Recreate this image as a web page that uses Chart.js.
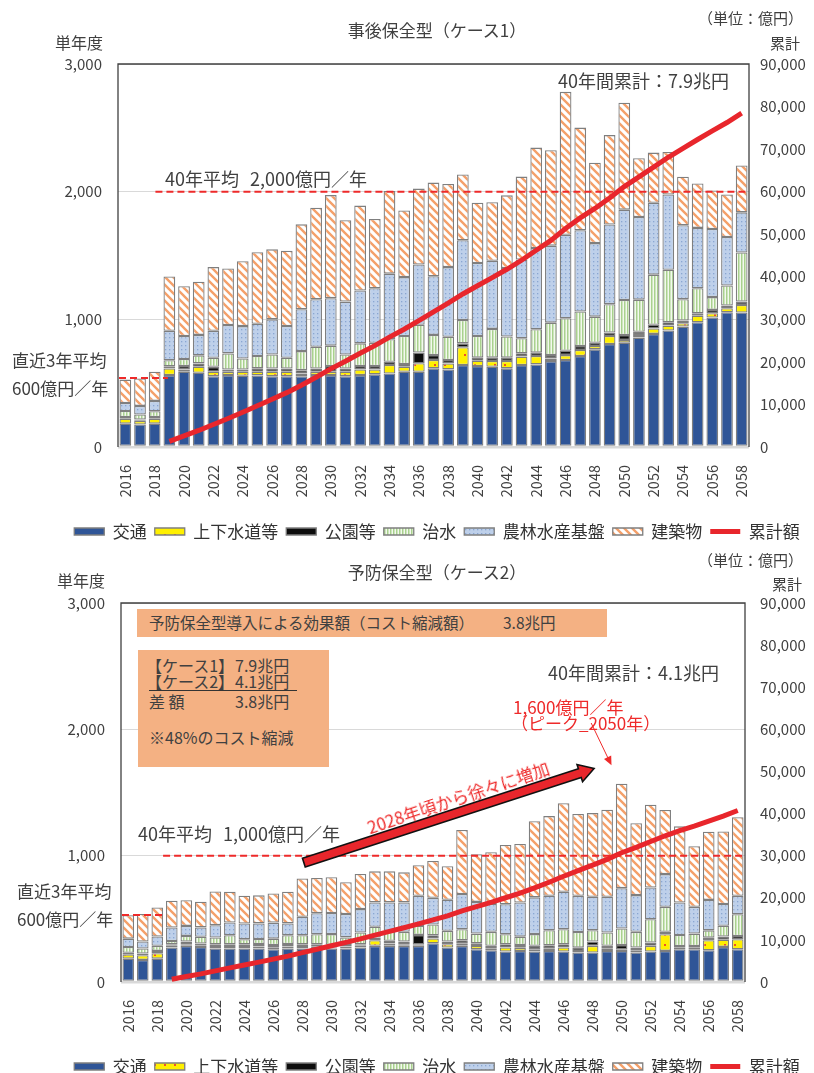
<!DOCTYPE html>
<html><head><meta charset="utf-8">
<script src="https://cdn.jsdelivr.net/npm/chart.js@4/dist/chart.umd.min.js"></script>
<style>
html,body{margin:0;padding:0;background:#fff;width:814px;height:1073px;overflow:hidden;}
body{position:relative;font-family:"Noto Sans CJK JP","Noto Sans",sans-serif;color:#404040;}
canvas{position:absolute;left:0;}
.t{position:absolute;white-space:pre;line-height:1;font-size:16px;}
.c{transform:translateX(-50%);}
.red{color:#EE2A2A;}
.box{position:absolute;background:#F4B183;}
</style></head>
<body>
<canvas id="c1" width="814" height="550" style="top:0"></canvas>
<canvas id="c2" width="814" height="545" style="top:540px"></canvas>

<!-- top chart texts -->
<div class="t" style="left:55px;top:34px;">単年度</div>
<div class="t c" style="left:437px;top:21px;font-size:17px;">事後保全型（ケース1）</div>
<div class="t" style="left:698px;top:10px;font-size:15px;">（単位：億円）</div>
<div class="t" style="left:770px;top:35px;font-size:15px;">累計</div>
<div class="t" style="left:165px;top:169px;font-size:18px;">40年平均</div>
<div class="t" style="left:250px;top:169px;font-size:18px;">2,000億円／年</div>
<div class="t" style="left:558px;top:71px;font-size:18px;">40年間累計：7.9兆円</div>
<div class="t" style="left:12px;top:351px;font-size:17px;">直近3年平均</div>
<div class="t" style="left:12px;top:379px;font-size:17px;">600億円／年</div>

<!-- bottom chart texts -->
<div class="t" style="left:57px;top:572px;">単年度</div>
<div class="t c" style="left:437px;top:563px;font-size:17px;">予防保全型（ケース2）</div>
<div class="t" style="left:698px;top:552px;font-size:15px;">（単位：億円）</div>
<div class="t" style="left:772px;top:576px;font-size:15px;">累計</div>
<div class="box" style="left:137px;top:609px;width:470px;height:28px;"></div>
<div class="t" style="left:149px;top:615px;font-size:15.5px;">予防保全型導入による効果額（コスト縮減額）</div>
<div class="t" style="left:503px;top:615px;font-size:15.5px;">3.8兆円</div>
<div class="box" style="left:138px;top:650px;width:191px;height:117px;"></div>
<div class="t" style="left:146px;top:657px;font-size:16px;">【ケース1】</div>
<div class="t" style="left:235px;top:657px;font-size:16px;">7.9兆円</div>
<div class="t" style="left:146px;top:673px;font-size:16px;">【ケース2】</div>
<div class="t" style="left:235px;top:673px;font-size:16px;">4.1兆円</div>
<div style="position:absolute;left:149px;top:690px;width:148px;height:0;border-top:1.5px solid #333;"></div>
<div class="t" style="left:149px;top:693px;font-size:16px;">差 額</div>
<div class="t" style="left:235px;top:693px;font-size:16px;">3.8兆円</div>
<div class="t" style="left:149px;top:729px;font-size:16px;">※48%のコスト縮減</div>
<div class="t" style="left:548px;top:663px;font-size:18px;">40年間累計：4.1兆円</div>
<div class="t red" style="left:513px;top:698px;font-size:17px;">1,600億円／年</div>
<div class="t red" style="left:511px;top:714px;font-size:17px;">（ピーク_2050年）</div>
<div class="t" style="left:138px;top:824px;font-size:18px;">40年平均</div>
<div class="t" style="left:223px;top:824px;font-size:18px;">1,000億円／年</div>
<div class="t" style="left:17px;top:882px;font-size:17px;">直近3年平均</div>
<div class="t" style="left:17px;top:910px;font-size:17px;">600億円／年</div>
<div class="t red" style="left:458px;top:797px;font-size:17px;transform:translate(-50%,-50%) rotate(-18.5deg);">2028年頃から徐々に増加</div>

<script>
const years = ['2016','2017','2018','2019','2020','2021','2022','2023','2024','2025','2026','2027','2028','2029','2030','2031','2032','2033','2034','2035','2036','2037','2038','2039','2040','2041','2042','2043','2044','2045','2046','2047','2048','2049','2050','2051','2052','2053','2054','2055','2056','2057','2058'];
const seriesNames = ['交通','上下水道等','公園等','治水','農林水産基盤','建築物','累計額'];
const leftTicks = [0, 1000, 2000, 3000];
const rightTicks = [0, 10000, 20000, 30000, 40000, 50000, 60000, 70000, 80000, 90000];

// Case 1 (事後保全型)
const kotsu1 = [183,176,183,563,590,582,555,563,558,561,555,555,555,563,563,555,563,569,576,590,590,616,608,642,634,629,616,642,647,673,681,713,765,807,817,857,886,912,943,977,1014,1056,1053];
const suido1 = [39,29,39,52,18,47,34,26,31,29,34,34,21,26,26,34,45,39,66,39,66,66,47,139,42,45,58,66,66,21,39,47,26,63,21,21,42,39,26,52,34,31,60];
const koen1 = [13,10,13,18,26,26,39,18,18,26,26,26,26,26,45,26,26,26,26,21,84,39,26,31,24,26,26,26,26,26,34,31,26,26,39,24,29,26,21,18,26,21,26];
const chisui1 = [47,39,45,47,55,63,71,126,86,97,110,84,149,170,160,110,178,183,176,220,217,157,183,183,170,225,165,118,183,254,254,270,204,223,275,252,393,411,168,197,100,157,385];
const norin1 = [63,68,81,231,181,160,212,223,254,252,275,249,328,372,372,414,414,427,514,461,472,459,545,624,571,534,537,616,637,603,655,637,576,624,707,647,563,590,579,472,534,380,314];
const kenchiku1 = [183,215,228,424,390,417,498,443,508,561,548,590,665,718,807,637,665,542,647,521,595,734,652,516,472,459,569,650,786,747,1119,804,629,700,838,461,393,333,380,348,301,333,367];
const ruikei1 = [null,null,null,1340,2600,3890,5300,6700,8160,9680,11230,12770,14510,16390,18360,20140,22030,23820,25820,27670,29700,31770,33830,35960,37880,39790,41760,43880,46230,48550,51330,53830,56060,58500,61200,63460,65770,68080,70200,72260,74270,76250,78460];

// Case 2 (予防保全型)
const kotsu2 = [185,175,185,273,286,278,265,265,265,265,259,265,265,267,265,265,273,286,286,286,286,307,273,286,259,251,241,246,241,246,241,233,233,246,246,233,241,246,259,259,251,278,259];
const suido2 = [34,37,42,13,13,8,13,13,13,16,13,16,13,13,8,16,13,45,19,13,13,37,26,21,26,16,32,26,19,21,32,13,53,21,13,19,45,132,13,13,79,56,79];
const koen2 = [13,13,19,13,21,19,21,21,21,19,21,19,21,19,21,19,13,21,21,21,74,26,21,24,21,19,26,21,26,24,26,26,34,19,34,21,26,19,13,13,21,26,26];
const chisui2 = [45,40,40,26,45,53,53,71,40,40,50,71,71,79,85,53,93,85,79,77,71,85,85,87,77,111,79,66,93,119,119,124,90,106,130,124,185,198,87,98,58,85,172];
const norin2 = [66,56,74,106,79,74,98,101,124,124,127,93,146,167,167,185,185,193,225,233,238,212,246,278,251,220,238,270,291,273,296,286,265,283,320,291,251,259,257,212,241,172,146];
const kenchiku2 = [185,217,230,212,204,204,267,243,220,222,230,251,304,278,283,251,278,246,246,238,243,291,265,508,378,410,468,463,603,630,701,648,662,688,826,569,656,508,603,479,540,574,622];
const ruikei2 = [null,null,null,643,1291,1926,2643,3357,4040,4725,5426,6140,6960,7783,8611,9400,10255,11131,12007,12875,13801,14761,15677,16881,17894,18921,20006,21099,22372,23684,25100,26431,27767,29130,30699,31956,33361,34724,35957,37031,38222,39413,40717];

// reference lines (values)
const avg40_1 = 2000, recent3_1 = 541;
const avg40_2 = 1000, recent3_2 = 530;

function pat(w,h,fn){const c=document.createElement('canvas');c.width=w;c.height=h;const g=c.getContext('2d');fn(g);return g.createPattern(c,'repeat');}
const fills = {
  kotsu:'#2F5597',
  suido: pat(10,10,g=>{g.fillStyle='#FFF000';g.fillRect(0,0,10,10);g.fillStyle='#F0502A';g.fillRect(4,4,2,2);}),
  koen:'#0d0d0d',
  chisui: pat(3,4,g=>{g.fillStyle='#F3F9EE';g.fillRect(0,0,3,4);g.fillStyle='#A9D18E';g.fillRect(0,0,1.5,4);}),
  norin: pat(4,4,g=>{g.fillStyle='#BED0EA';g.fillRect(0,0,4,4);g.fillStyle='#8AA6D2';g.fillRect(1,1,1.3,1.3);}),
  kenchiku: pat(8,8,g=>{g.fillStyle='#fff';g.fillRect(0,0,8,8);g.strokeStyle='#F4A06A';g.lineWidth=2.4;g.beginPath();for(const k of [-8,0,8]){g.moveTo(k-1,-1);g.lineTo(k+9,9);}g.stroke();})
};

const deco = {
  id:'deco',
  afterDatasetsDraw(chart, args, o){
    const {ctx, chartArea:a, scales:{x,y}} = chart;
    ctx.save();
    ctx.strokeStyle='#404040'; ctx.lineWidth=1.3; ctx.setLineDash([]);
    ctx.beginPath(); ctx.moveTo(a.left,a.bottom); ctx.lineTo(a.left,a.top); ctx.lineTo(a.right,a.top); ctx.lineTo(a.right,a.bottom); ctx.stroke();
    ctx.strokeStyle='#EE2A2A'; ctx.lineWidth=2; ctx.setLineDash([7,4]);
    for (const L of o.dashes){
      const yy=y.getPixelForValue(L.v);
      const x0 = L.from==null ? a.left+1 : x.getPixelForValue(L.from);
      const x1 = L.to==null ? a.right : x.getPixelForValue(L.to);
      ctx.beginPath(); ctx.moveTo(x0,yy); ctx.lineTo(x1,yy); ctx.stroke();
    }
    ctx.setLineDash([]);
    if (o.thin){
      const p0=[x.getPixelForValue(o.thin.from[0]), y.getPixelForValue(o.thin.from[1])];
      const p1=[x.getPixelForValue(o.thin.to[0]), y.getPixelForValue(o.thin.to[1])];
      const dx=p1[0]-p0[0], dy=p1[1]-p0[1], len=Math.hypot(dx,dy), ux=dx/len, uy=dy/len;
      ctx.strokeStyle='#EE2A2A'; ctx.fillStyle='#EE2A2A'; ctx.lineWidth=1;
      ctx.beginPath(); ctx.moveTo(p0[0],p0[1]); ctx.lineTo(p1[0]-ux*7,p1[1]-uy*7); ctx.stroke();
      ctx.beginPath(); ctx.moveTo(p1[0],p1[1]); ctx.lineTo(p1[0]-ux*9-uy*4,p1[1]-uy*9+ux*4); ctx.lineTo(p1[0]-ux*9+uy*4,p1[1]-uy*9-ux*4); ctx.closePath(); ctx.fill();
    }
    if (o.arrow){
      const p0=[x.getPixelForValue(o.arrow.from[0]), y.getPixelForValue(o.arrow.from[1])];
      const p1=[x.getPixelForValue(o.arrow.to[0]), y.getPixelForValue(o.arrow.to[1])];
      const dx=p1[0]-p0[0], dy=p1[1]-p0[1], len=Math.hypot(dx,dy), ux=dx/len, uy=dy/len, nx=-uy, ny=ux;
      const hw=4.5, HW=9, HL=15;
      const bx=p1[0]-ux*HL, by=p1[1]-uy*HL;
      ctx.beginPath();
      ctx.moveTo(p0[0]+nx*hw,p0[1]+ny*hw);
      ctx.lineTo(bx+nx*hw,by+ny*hw);
      ctx.lineTo(bx+nx*HW,by+ny*HW);
      ctx.lineTo(p1[0],p1[1]);
      ctx.lineTo(bx-nx*HW,by-ny*HW);
      ctx.lineTo(bx-nx*hw,by-ny*hw);
      ctx.lineTo(p0[0]-nx*hw,p0[1]-ny*hw);
      ctx.closePath();
      ctx.fillStyle='#E8262C'; ctx.fill();
      ctx.strokeStyle='#111'; ctx.lineWidth=1.6; ctx.stroke();
    }
    ctx.restore();
  }
};

function makeChart(id, d, g){
  const bar = (i, data, bg) => ({type:'bar', label:seriesNames[i], data, backgroundColor:bg, borderColor:'#7f7f7f', borderWidth:1.3, borderSkipped:false, barPercentage:0.8, categoryPercentage:1.0, yAxisID:'y', pointStyle:'rect'});
  return new Chart(document.getElementById(id), {
    data:{labels:years, datasets:[
      bar(0,d.kotsu,fills.kotsu),
      bar(1,d.suido,fills.suido),
      bar(2,d.koen,fills.koen),
      bar(3,d.chisui,fills.chisui),
      bar(4,d.norin,fills.norin),
      bar(5,d.kenchiku,fills.kenchiku),
      {type:'line', label:seriesNames[6], data:d.ruikei, yAxisID:'y2', borderColor:'#E8262C', backgroundColor:'#E8262C', borderWidth:5, pointRadius:0, pointStyle:'line', tension:0, order:-1}
    ]},
    options:{
      responsive:false, animation:false, devicePixelRatio:1,
      layout:{padding:{top:g.top,left:60,right:0,bottom:0}},
      plugins:{
        tooltip:{enabled:false},
        legend:{position:'bottom', labels:{font:{family:'"Noto Sans CJK JP"',size:17}, color:'#333', usePointStyle:true, pointStyleWidth:30, boxWidth:30, boxHeight:7, padding:8,
          sort:(a,b)=>a.datasetIndex-b.datasetIndex}},
        deco:g.deco
      },
      scales:{
        x:{stacked:true, grid:{display:false}, border:{display:false},
           ticks:{autoSkip:false, minRotation:90, maxRotation:90, padding:10, color:'#404040', font:{family:'"Noto Sans CJK JP"',size:14.5},
                  callback:(v,i)=> i%2===0 ? years[i] : ''},
           afterFit:s=>{s.height=g.xh;}},
        y:{stacked:true, min:leftTicks[0], max:leftTicks[leftTicks.length-1], position:'left',
           afterBuildTicks:s=>{s.ticks=leftTicks.map(v=>({value:v}));},
           grid:{color:'#d9d9d9', lineWidth:c=>c.tick && c.tick.value===0?2.5:1, drawTicks:false}, border:{display:false},
           ticks:{padding:g.lpad, color:'#404040', font:{family:'"Noto Sans CJK JP"',size:15}, callback:v=>v.toLocaleString('en-US')},
           afterFit:s=>{s.width=g.lw;}},
        y2:{min:rightTicks[0], max:rightTicks[rightTicks.length-1], position:'right',
           afterBuildTicks:s=>{s.ticks=rightTicks.map(v=>({value:v}));},
           grid:{display:false, drawTicks:false}, border:{display:false},
           ticks:{padding:g.rpad, color:'#404040', font:{family:'"Noto Sans CJK JP"',size:15}, callback:v=>v.toLocaleString('en-US')},
           afterFit:s=>{s.width=g.rw;}}
      }
    },
    plugins:[deco]
  });
}

makeChart('c1',
  {kotsu:kotsu1,suido:suido1,koen:koen1,chisui:chisui1,norin:norin1,kenchiku:kenchiku1,ruikei:ruikei1},
  {top:64, xh:68, lw:58, rw:65, lpad:16, rpad:11,
   deco:{dashes:[{v:avg40_1, from:2.05, to:null},{v:recent3_1, from:null, to:2.9}]}});
makeChart('c2',
  {kotsu:kotsu2,suido:suido2,koen:koen2,chisui:chisui2,norin:norin2,kenchiku:kenchiku2,ruikei:ruikei2},
  {top:63, xh:68, lw:61, rw:69, lpad:16, rpad:15,
   deco:{dashes:[{v:avg40_2, from:2.4, to:null},{v:recent3_2, from:null, to:2.4}],
         arrow:{from:[12.1,945], to:[32.1,1690]},
         thin:{from:[31.9,2050], to:[33.3,1715]}}});
</script>
</body></html>
